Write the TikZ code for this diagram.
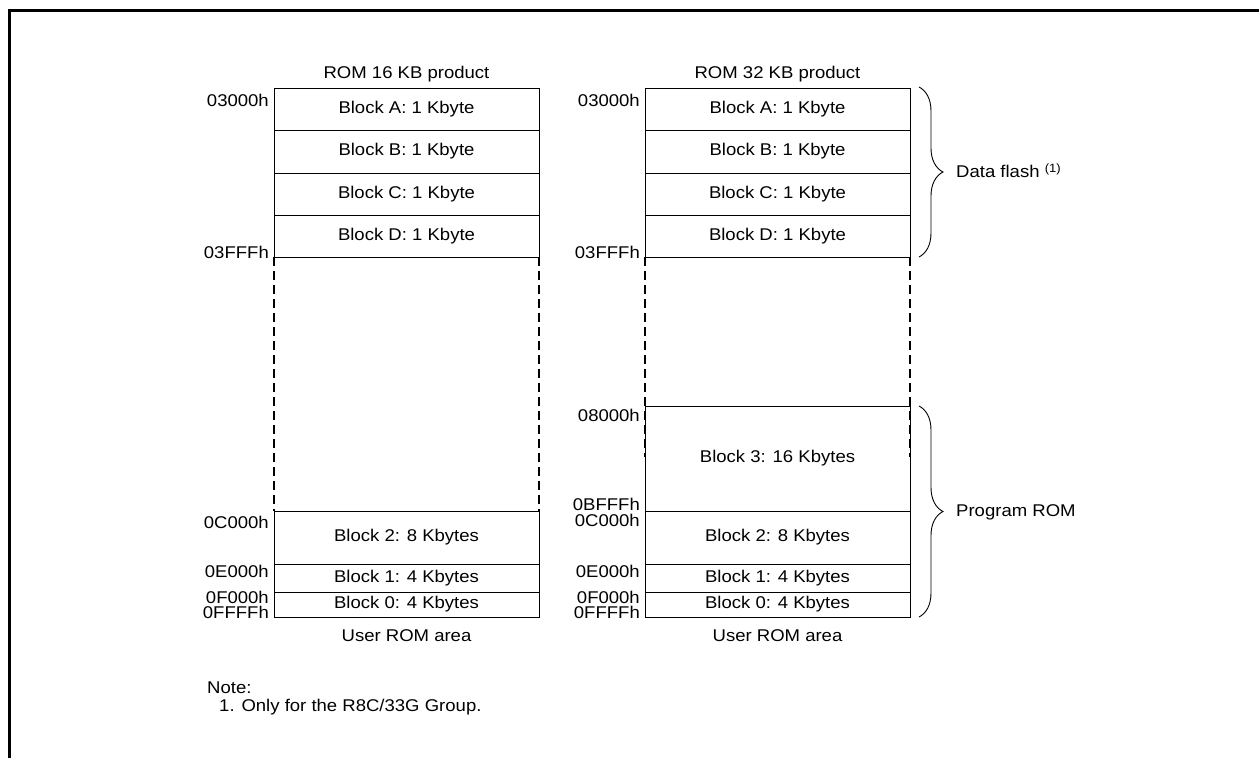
\documentclass[tikz,border=0pt]{standalone}
\usepackage{fontspec}
\setmainfont{Liberation Sans}[FakeStretch=1.09]
\usetikzlibrary{positioning,decorations.pathreplacing}
\tikzset{
	blk/.style={draw, line width=0.9pt, minimum width=265pt, inner sep=1pt, outer sep=0pt},
	adr/.style={anchor=east, inner sep=0pt},
	gap/.style={line width=1.8pt, dash pattern=on 9pt off 5pt},
	brc/.style={line width=0.9pt, decorate, decoration={brace, amplitude=24pt}},
	lbl/.style={anchor=west, inner sep=0pt}
}

\begin{document}
\begin{tikzpicture}[x=1pt, y=-1pt, every node/.style={font=\fontsize{17}{18}\selectfont}]
				\useasboundingbox (0,0) rectangle (1259,758);
				\draw[line width=3pt] (1259,10.5) -- (9.5,10.5) -- (9.5,758);
				\node[blk, anchor=north west, minimum height=42pt] (la) at (274,88) {Block A: 1 Kbyte};
				\node[blk, minimum height=43pt, below=0pt of la] (lb) {Block B: 1 Kbyte};
				\node[blk, minimum height=42pt, below=0pt of lb] (lc) {Block C: 1 Kbyte};
				\node[blk, minimum height=42pt, below=0pt of lc] (ld) {Block D: 1 Kbyte};
				\node[blk, minimum height=53pt, below=254pt of ld] (l2) {Block 2: 8 Kbytes};
				\node[blk, minimum height=28pt, below=0pt of l2] (l1) {Block 1: 4 Kbytes};
				\node[blk, minimum height=25pt, below=0pt of l1] (l0) {Block 0: 4 Kbytes};
				\node[above=2pt of la] (t16) {ROM 16 KB product};
				\node[below=9pt of l0] (u16) {User ROM area};
				\draw[gap] (ld.south west) -- (l2.north west);
				\draw[gap] (ld.south east) -- (l2.north east);
				\node[blk, anchor=north west, minimum height=42pt] (ra) at (645,88) {Block A: 1 Kbyte};
				\node[blk, minimum height=43pt, below=0pt of ra] (rb) {Block B: 1 Kbyte};
				\node[blk, minimum height=42pt, below=0pt of rb] (rc) {Block C: 1 Kbyte};
				\node[blk, minimum height=42pt, below=0pt of rc] (rd) {Block D: 1 Kbyte};
				\node[blk, minimum height=105pt, below=149pt of rd] (r3) {Block 3: 16 Kbytes};
				\node[blk, minimum height=53pt, below=0pt of r3] (r2) {Block 2: 8 Kbytes};
				\node[blk, minimum height=28pt, below=0pt of r2] (r1) {Block 1: 4 Kbytes};
				\node[blk, minimum height=25pt, below=0pt of r1] (r0) {Block 0: 4 Kbytes};
				\node[above=2pt of ra] (t32) {ROM 32 KB product};
				\node[below=9pt of r0] (u32) {User ROM area};
				\coordinate (rgl) at (645,457);
				\coordinate (rgr) at (910,457);
				\draw[gap] (rd.south west) -- (rgl);
				\draw[gap] (rd.south east) -- (rgr);
				\node[adr] (la1) at (269,100) {03000h};
				\node[adr] (la2) at (269,252) {03FFFh};
				\node[adr] (la3) at (269,522) {0C000h};
				\node[adr] (la4) at (269,571) {0E000h};
				\node[adr] (la5) at (269,597) {0F000h};
				\node[adr] (la6) at (269,612) {0FFFFh};
				\node[adr] (ra1) at (640,100) {03000h};
				\node[adr] (ra2) at (640,252) {03FFFh};
				\node[adr] (ra3) at (640,415) {08000h};
				\node[adr] (ra4) at (640,504) {0BFFFh};
				\node[adr] (ra5) at (640,520) {0C000h};
				\node[adr] (ra6) at (640,571) {0E000h};
				\node[adr] (ra7) at (640,597) {0F000h};
				\node[adr] (ra8) at (640,612) {0FFFFh};
				\coordinate (df1) at (919,87);
				\coordinate (df2) at (919,257);
				\coordinate (pr1) at (919,406);
				\coordinate (pr2) at (919,617);
				\draw[brc] (df1) -- (df2);
				\draw[brc] (pr1) -- (pr2);
				\node[lbl] (dflash) at (956,171) {Data flash \raisebox{5pt}{\fontsize{12}{12}\selectfont (1)}};
				\node[lbl] (prom) at (956,512) {Program ROM};
				\node[lbl] (note) at (207,688) {Note:};
				\node[lbl] (note1) at (219,707) {1. Only for the R8C/33G Group.};
\end{tikzpicture}
\end{document}
